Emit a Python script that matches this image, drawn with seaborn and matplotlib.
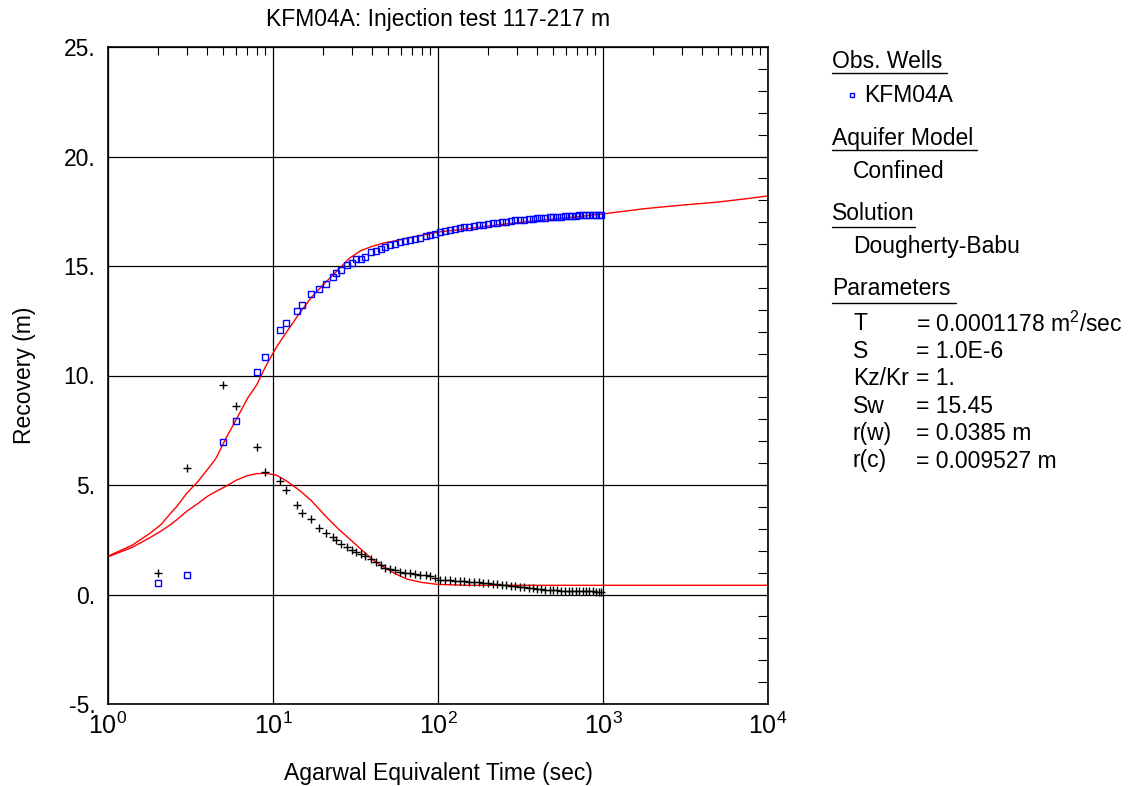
import numpy as np
import matplotlib
matplotlib.use("Agg")
import matplotlib.pyplot as plt
import seaborn as sns
from matplotlib.ticker import FixedLocator, LogLocator, FuncFormatter, MultipleLocator
from matplotlib.lines import Line2D

sns.set_style("white")
plt.rcParams['font.family'] = ['Liberation Sans', 'DejaVu Sans']
plt.rcParams['mathtext.fontset'] = 'custom'
plt.rcParams['mathtext.rm'] = 'Liberation Sans'
plt.rcParams['mathtext.it'] = 'Liberation Sans'
plt.rcParams['text.color'] = 'black'
plt.rcParams['axes.labelcolor'] = 'black'

# Observed data (Agarwal equivalent time, sec)
t_obs = [2, 3, 5, 6, 8, 9, 11, 12, 14, 15, 17, 19, 21, 23, 24, 26, 28, 30, 32, 34,
         36, 39, 42, 45, 48, 51, 55, 59, 63, 68, 73, 78, 84, 90, 96, 103, 110, 118,
         126, 135, 144, 154, 165, 176, 188, 200, 214, 228, 243, 259, 276, 294, 313,
         333, 354, 376, 399, 423, 448, 474, 501, 529, 558, 588, 619, 651, 684, 718,
         753, 789, 826, 864, 903, 943, 975]
recovery = [0.53, 0.9, 6.96, 7.9, 10.14, 10.86, 12.1, 12.4, 12.96, 13.2, 13.74, 13.97,
            14.19, 14.48, 14.68, 14.82, 15.06, 15.14, 15.31, 15.33, 15.42, 15.64, 15.67,
            15.78, 15.87, 15.96, 16.02, 16.08, 16.14, 16.2, 16.25, 16.3, 16.36, 16.42,
            16.48, 16.55, 16.6, 16.64, 16.68, 16.72, 16.76, 16.79, 16.83, 16.86, 16.89,
            16.92, 16.95, 16.98, 17.0, 17.03, 17.05, 17.08, 17.1, 17.12, 17.14, 17.16,
            17.18, 17.19, 17.21, 17.22, 17.24, 17.25, 17.26, 17.27, 17.28, 17.29, 17.3,
            17.31, 17.31, 17.32, 17.33, 17.33, 17.34, 17.34, 17.35]
derivative = [1.0, 5.79, 9.57, 8.6, 6.75, 5.6, 5.17, 4.79, 4.09, 3.71, 3.46, 3.04, 2.8,
              2.61, 2.49, 2.32, 2.17, 2.05, 1.95, 1.85, 1.76, 1.62, 1.5, 1.35, 1.22, 1.15,
              1.1, 1.05, 1.0, 0.97, 0.94, 0.91, 0.89, 0.85, 0.75, 0.68, 0.66, 0.64, 0.62,
              0.61, 0.6, 0.58, 0.57, 0.55, 0.53, 0.51, 0.48, 0.46, 0.44, 0.42, 0.41, 0.39,
              0.36, 0.33, 0.3, 0.28, 0.26, 0.24, 0.22, 0.21, 0.2, 0.19, 0.18, 0.17, 0.17,
              0.16, 0.16, 0.15, 0.15, 0.14, 0.14, 0.14, 0.13, 0.13, 0.13]

# Dougherty-Babu type curves
t_fit = [1, 1.4, 1.8, 2.1, 2.4, 2.6, 3.0, 3.5, 4.0, 4.5, 5.2, 6.0, 7.0, 8.0, 9.0, 10.5,
         12, 14.5, 17, 21, 25, 29, 34, 40, 47, 55, 65, 80, 100, 150, 230, 400, 700,
         1000, 1800, 3000, 4700, 7000, 10000]
recovery_fit = [1.75, 2.25, 2.8, 3.2, 3.72, 4.0, 4.62, 5.15, 5.7, 6.2, 7.15, 8.0, 8.95,
                9.6, 10.4, 11.3, 11.95, 12.85, 13.55, 14.28, 14.85, 15.35, 15.7, 15.9,
                16.05, 16.15, 16.27, 16.4, 16.55, 16.7, 16.88, 17.07, 17.25, 17.38, 17.62,
                17.78, 17.9, 18.05, 18.2]
derivative_fit = [1.72, 2.15, 2.6, 2.9, 3.2, 3.4, 3.8, 4.15, 4.48, 4.7, 4.95, 5.22, 5.43,
                  5.52, 5.53, 5.45, 5.2, 4.75, 4.3, 3.55, 2.98, 2.55, 2.08, 1.6, 1.25, 0.95,
                  0.7, 0.55, 0.46, 0.42, 0.42, 0.42, 0.42, 0.42, 0.42, 0.42, 0.42, 0.42,
                  0.42]

fig = plt.figure(figsize=(11.41, 7.86), dpi=100)
ax = fig.add_axes([108 / 1141, 1 - 704 / 786, 660 / 1141, 657 / 786])
ax.set_xscale('log')

sns.lineplot(x=t_fit, y=recovery_fit, ax=ax, color='red', lw=1.0, estimator=None, sort=False)
sns.lineplot(x=t_fit, y=derivative_fit, ax=ax, color='red', lw=1.0, estimator=None, sort=False)
sns.lineplot(x=t_obs, y=derivative, ax=ax, color='black', linestyle='', marker='+',
             markersize=5.5, markeredgecolor='black', markeredgewidth=1.0,
             estimator=None, sort=False)
sns.lineplot(x=t_obs, y=recovery, ax=ax, color='blue', linestyle='', marker='s',
             markersize=4, markerfacecolor='none', markeredgecolor='blue',
             markeredgewidth=1.0, estimator=None, sort=False)

ax.set_xlim(1, 1e4)
ax.set_ylim(-5, 25)
ax.xaxis.set_major_locator(FixedLocator([1, 10, 100, 1000, 10000]))
ax.xaxis.set_minor_locator(LogLocator(base=10, subs=np.arange(2, 10)))
ax.xaxis.set_major_formatter(FuncFormatter(lambda v, p: r'$\mathregular{10^{%d}}$' % round(np.log10(v))))
ax.yaxis.set_major_locator(MultipleLocator(5))
ax.yaxis.set_minor_locator(MultipleLocator(1))
ax.yaxis.set_major_formatter(FuncFormatter(lambda v, p: f"{v:.0f}."))
ax.tick_params(which='both', direction='in', top=True, right=True, colors='black',
               labelsize=16.5, width=0.8)
ax.tick_params(which='major', length=0, pad=9)
ax.tick_params(axis='y', which='minor', length=7)
ax.tick_params(axis='x', which='minor', length=6)
ax.tick_params(axis='x', which='major', pad=6, labelsize=18)
ax.grid(True, which='major', color='black', lw=0.9)
for s in ax.spines.values():
    s.set_color('black')
    s.set_linewidth(1.2)

ax.set_title('KFM04A: Injection test 117-217 m', fontsize=16.5, pad=15)
ax.set_xlabel('Agarwal Equivalent Time (sec)', fontsize=16.5, labelpad=17)
ax.set_ylabel('Recovery (m)', fontsize=16.5, labelpad=20)

# Legend / info panel on the right
W, H = 1141, 786


def ftext(x, y, s, **kw):
    fig.text(x / W, 1 - y / H, s, va='center', ha='left', fontsize=16.5, **kw)


def underline(x0, x1, y):
    fig.add_artist(Line2D([x0 / W, x1 / W], [1 - y / H, 1 - y / H], color='black', lw=1.0))


ftext(832, 61, 'Obs. Wells')
underline(832, 947, 73)
fig.add_artist(Line2D([852 / W], [1 - 95 / H], marker='s', markersize=3.5, markerfacecolor='none',
                      markeredgecolor='blue', markeredgewidth=1.0, linestyle=''))
ftext(864, 96, 'KFM04A')
ftext(832, 138, 'Aquifer Model')
underline(832, 977, 150)
ftext(853, 171, 'Confined')
ftext(832, 213, 'Solution')
underline(832, 915, 227)
ftext(853, 247, 'Dougherty-Babu')
ftext(832, 289, 'Parameters')
underline(832, 956, 303)

param_names = ['T', 'S', 'Kz/Kr', 'Sw', 'r(w)', 'r(c)']
param_values = [r'= 0.0001178 m$^{2}$/sec', '= 1.0E-6', '= 1.', '= 15.45', '= 0.0385 m', '= 0.009527 m']
for i, (n, v) in enumerate(zip(param_names, param_values)):
    y = 324 + i * 27.4
    ftext(853, y, n)
    ftext(916, y, v)

fig.savefig('out.png', dpi=100)
